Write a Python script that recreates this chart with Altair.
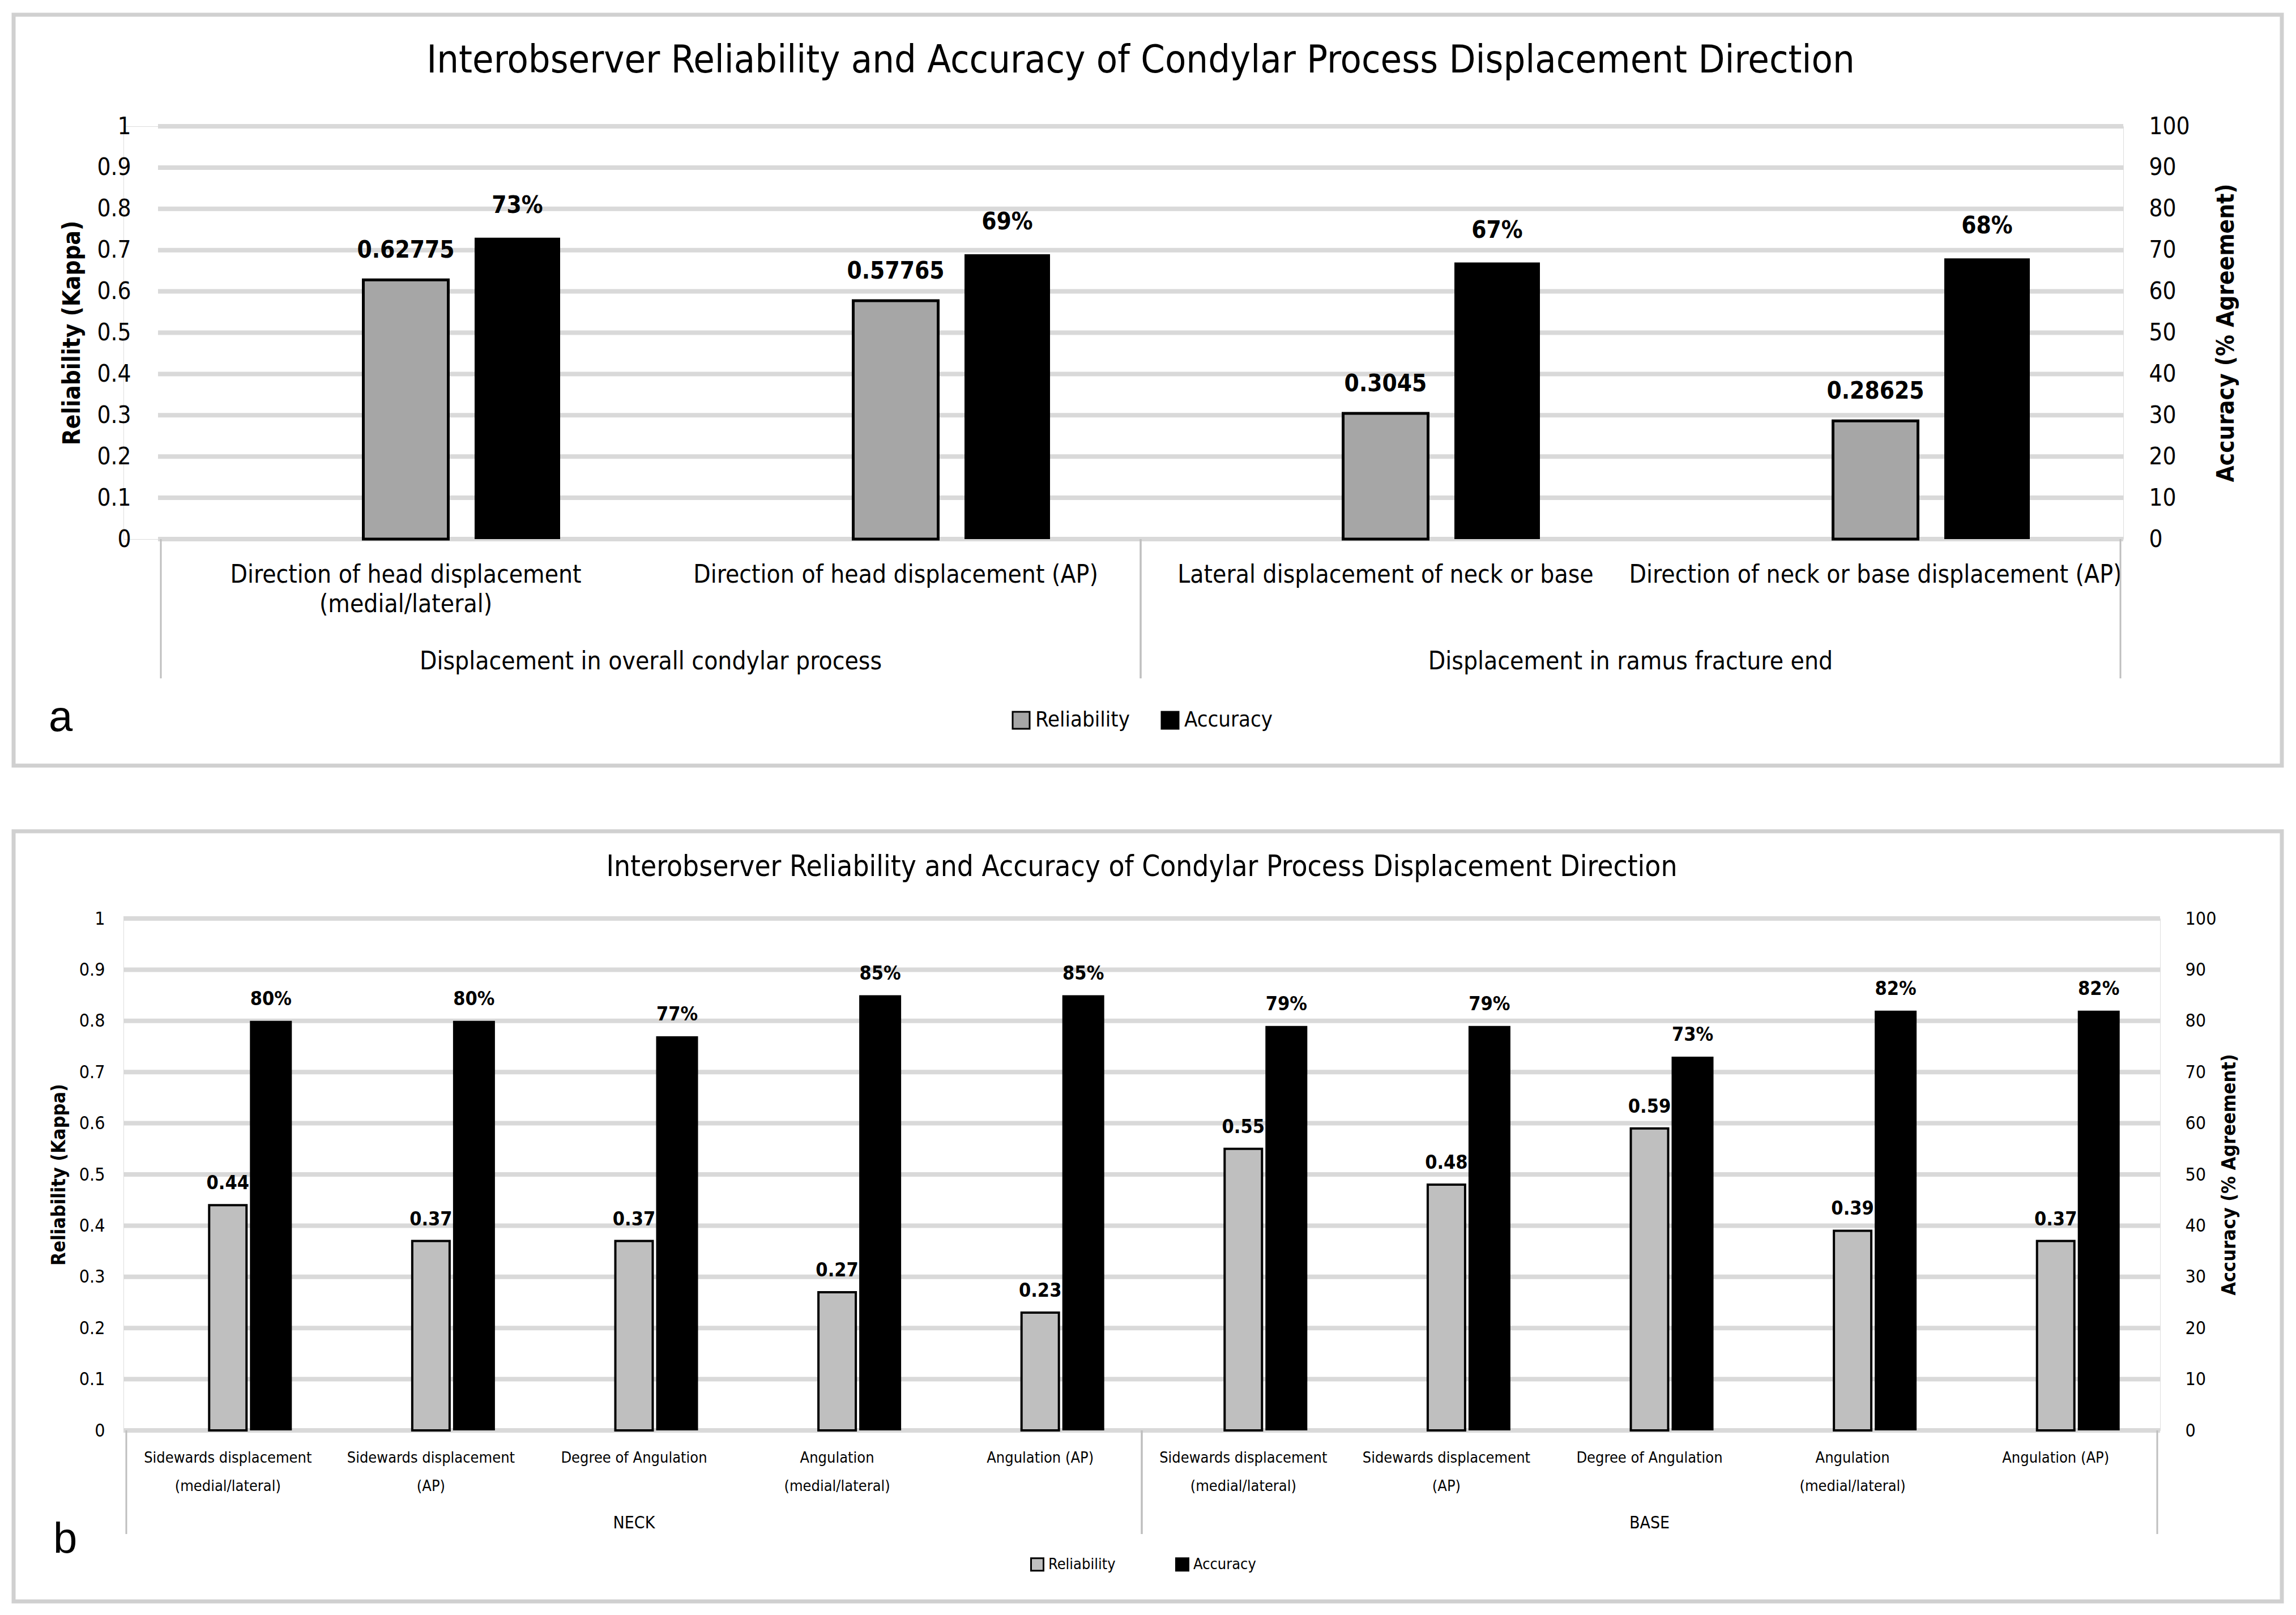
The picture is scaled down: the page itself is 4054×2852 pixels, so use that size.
import altair as alt
import pandas as pd

FONT = "Liberation Sans Narrow, DejaVu Sans Condensed, Arial Narrow, sans-serif"
FONT_REG = "Liberation Sans, Arial, sans-serif"
TITLE = "Interobserver Reliability and Accuracy of Condylar Process Displacement Direction"
SERIES = ["Reliability", "Accuracy"]
REL_TICKS = [0, 0.1, 0.2, 0.3, 0.4, 0.5, 0.6, 0.7, 0.8, 0.9, 1]
ACC_TICKS = [0, 10, 20, 30, 40, 50, 60, 70, 80, 90, 100]

# Panel a
a_categories = [
    "Direction of head displacement\n(medial/lateral)",
    "Direction of head displacement (AP)",
    "Lateral displacement of neck or base",
    "Direction of neck or base displacement (AP)",
]
a_groups = [
    "Displacement in overall condylar process",
    "Displacement in overall condylar process",
    "Displacement in ramus fracture end",
    "Displacement in ramus fracture end",
]
a_reliability = [0.62775, 0.57765, 0.3045, 0.28625]
a_accuracy = [73, 69, 67, 68]

# Panel b
b_categories = [
    "Sidewards displacement\n(medial/lateral)",
    "Sidewards displacement\n(AP)",
    "Degree of Angulation",
    "Angulation\n(medial/lateral)",
    "Angulation (AP)",
    "Sidewards displacement\n(medial/lateral)",
    "Sidewards displacement\n(AP)",
    "Degree of Angulation",
    "Angulation\n(medial/lateral)",
    "Angulation (AP)",
]
b_groups = ["NECK"] * 5 + ["BASE"] * 5
b_reliability = [0.44, 0.37, 0.37, 0.27, 0.23, 0.55, 0.48, 0.59, 0.39, 0.37]
b_accuracy = [80, 80, 77, 85, 85, 79, 79, 73, 82, 82]

# Both panels share the same group origin; panel a's data area starts `inset` px in.
STYLE_A = dict(
    W=3531, inset=61, H=729, gray="#a6a6a6", gw=150, gsw=5, bw=151, off=197,
    axfs=42, atfs=42, lpad=48, ltpad=21, rpad=45, rtpad=86, gridw=8,
    vfs=42, vfmt="~g", gdy=52, bdy=57,
    cfs=44, cat_dy=42, clh=52, gfs=44, grp_dy=217, sep_len=246,
    tfs=68, ty=115, letter="a", lx=-132, ly=1045,
    legx=1566, legy=1030, legfs=38, legsym=900, legpad=50,
    frame=(194, 280, 197, 400),
)
STYLE_B = dict(
    W=3596, inset=0, H=904, gray="#bfbfbf", gw=66, gsw=4, bw=74, off=76,
    axfs=32, atfs=34, lpad=33, ltpad=18, rpad=44, rtpad=41, gridw=8,
    vfs=34, vfmt=".2f", gdy=38, bdy=38,
    cfs=27, cat_dy=36, clh=50, gfs=30, grp_dy=164, sep_len=183,
    tfs=51, ty=90, letter="b", lx=-124, ly=1097,
    legx=1600, legy=1127, legfs=27, legsym=484, legpad=100,
    frame=(194, 215, 154, 302),
)


def panel(cats, groups, rel, acc, st, sfield):
    n = len(cats)
    W, H, inset = st["W"], st["H"], st["inset"]
    df = pd.DataFrame({"i": list(range(n)), "cat": cats, "grp": groups, "rel": rel, "acc": acc})
    xs = alt.Scale(domain=[0, n], range=[inset, W], nice=False, zero=False)
    x = alt.X("pos:Q", scale=xs, axis=None)
    base = alt.Chart(df).transform_calculate(pos="datum.i + 0.5")
    yrel = alt.Scale(domain=[0, 1], nice=False, zero=True)
    yacc = alt.Scale(domain=[0, 100], nice=False, zero=True)

    legend = alt.Legend(
        orient="none", legendX=st["legx"], legendY=st["legy"], direction="horizontal",
        title=None, symbolType="square", symbolSize=st["legsym"],
        symbolStrokeColor="black", symbolStrokeWidth=3,
        labelFont=FONT, labelFontSize=st["legfs"], labelColor="black", labelLimit=0,
        columnPadding=st["legpad"], labelOffset=6,
    )
    color = alt.Color(
        f"{sfield}:N",
        scale=alt.Scale(domain=SERIES, range=[st["gray"], "#000000"]),
        legend=legend,
    )

    left_axis = alt.Axis(
        orient="left", values=REL_TICKS, format="~g", grid=False, offset=-inset,
        domain=False, ticks=False, labelFont=FONT,
        labelFontSize=st["axfs"], labelColor="black", labelPadding=st["lpad"],
        labelOverlap=False, labelBound=False, labelFlush=False,
        title="Reliability (Kappa)", titleFont=FONT, titleFontSize=st["atfs"],
        titleFontWeight="bold", titleColor="black", titlePadding=st["ltpad"],
    )
    right_axis = alt.Axis(
        orient="right", values=ACC_TICKS, format="d", grid=False, domain=False,
        ticks=False, labelFont=FONT, labelFontSize=st["axfs"], labelColor="black",
        labelPadding=st["rpad"], labelOverlap=False, labelBound=False, labelFlush=False,
        title="Accuracy (% Agreement)", titleFont=FONT, titleFontSize=st["atfs"],
        titleFontWeight="bold", titleColor="black", titlePadding=st["rtpad"],
        titleAngle=270,
    )

    grid = alt.Chart(pd.DataFrame({"t": REL_TICKS})).mark_rule(
        color="#d9d9d9", strokeWidth=st["gridw"]
    ).encode(y=alt.Y("t:Q", scale=yrel, axis=None), x=alt.value(inset), x2=alt.value(W))

    gray = base.transform_calculate(**{sfield: f"'{SERIES[0]}'"}).mark_bar(
        width=st["gw"], stroke="black", strokeWidth=st["gsw"]
    ).encode(x=x, y=alt.Y("rel:Q", scale=yrel, axis=left_axis), color=color)

    black = base.transform_calculate(**{sfield: f"'{SERIES[1]}'"}).mark_bar(
        width=st["bw"], xOffset=st["off"]
    ).encode(x=x, y=alt.Y("acc:Q", scale=yacc, axis=right_axis), color=color)

    gray_lbl = base.mark_text(
        font=FONT, fontSize=st["vfs"], fontWeight="bold", color="black",
        baseline="middle", dy=-st["gdy"],
    ).encode(x=x, y=alt.Y("rel:Q", scale=yrel, axis=None),
             text=alt.Text("rel:Q", format=st["vfmt"]))

    black_lbl = base.transform_calculate(lab="format(datum.acc, 'd') + '%'").mark_text(
        font=FONT, fontSize=st["vfs"], fontWeight="bold", color="black",
        baseline="middle", dx=st["off"], dy=-st["bdy"],
    ).encode(x=x, y=alt.Y("acc:Q", scale=yacc, axis=None), text="lab:N")

    cat_lbl = base.mark_text(
        font=FONT, fontSize=st["cfs"], color="black", baseline="top",
        lineBreak="\n", lineHeight=st["clh"],
    ).encode(x=x, y=alt.value(H + st["cat_dy"]), text="cat:N")

    grp = alt.Chart(df).transform_aggregate(
        lo="min(i)", hi="max(i)", groupby=["grp"]
    ).transform_calculate(c="(datum.lo + datum.hi + 1) / 2", end="datum.hi + 1")

    grp_lbl = grp.mark_text(
        font=FONT, fontSize=st["gfs"], color="black", baseline="middle"
    ).encode(x=alt.X("c:Q", scale=xs, axis=None), y=alt.value(H + st["grp_dy"]), text="grp:N")

    sep = grp.transform_fold(["lo", "end"], as_=["k", "edge"]).mark_rule(
        color="#bfbfbf", strokeWidth=3
    ).encode(x=alt.X("edge:Q", scale=xs, axis=None), y=alt.value(H), y2=alt.value(H + st["sep_len"]))

    one = alt.Chart(pd.DataFrame({"k": [0]}))
    fl, fr, ft, fb = st["frame"]
    frame = one.mark_rect(fillOpacity=0, stroke="#d0d0d0", strokeWidth=7).encode(
        x=alt.value(-fl), x2=alt.value(W + fr), y=alt.value(-ft), y2=alt.value(H + fb)
    )
    title = one.mark_text(
        text=TITLE, font=FONT, fontSize=st["tfs"], color="black", baseline="middle"
    ).encode(x=alt.value((W + inset) / 2), y=alt.value(-st["ty"]))
    letter = one.mark_text(
        text=st["letter"], font=FONT_REG, fontSize=76, color="black",
        align="left", baseline="middle",
    ).encode(x=alt.value(st["lx"]), y=alt.value(st["ly"]))

    return alt.layer(
        frame, grid, gray, black, gray_lbl, black_lbl, cat_lbl, grp_lbl, sep, title, letter
    ).resolve_scale(y="independent").properties(width=W, height=H)


pa = panel(a_categories, a_groups, a_reliability, a_accuracy, STYLE_A, "series_a")
pb = panel(b_categories, b_groups, b_reliability, b_accuracy, STYLE_B, "series_b")

chart = alt.vconcat(pa, pb, spacing=108).resolve_scale(
    color="independent"
).properties(
    padding={"left": 12, "top": 14, "right": 5, "bottom": 5}
).configure_view(stroke=None).configure(background="white")

chart.save("out.html", embed_options={"renderer": "svg", "actions": False})
